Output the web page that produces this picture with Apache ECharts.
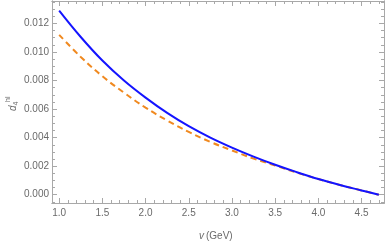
<!DOCTYPE html>
<html>
<head>
<meta charset="utf-8">
<script src="https://cdn.jsdelivr.net/npm/echarts@6/dist/echarts.min.js"></script>
<style>
html,body{margin:0;padding:0;background:#fff;}
#chart{width:387px;height:247px;}
</style>
</head>
<body>
<div id="chart"></div>
<script>
// ---- data ----
const xValues      = [1.0, 1.25, 1.5, 1.75, 2.0, 2.25, 2.5, 2.75, 3.0, 3.25, 3.5, 3.75, 4.0, 4.25, 4.5, 4.7];
const blueValues   = [0.01290, 0.01105, 0.00940, 0.00800, 0.00680, 0.00573, 0.00480, 0.00400, 0.00330, 0.00267, 0.00210, 0.00158, 0.00110, 0.00068, 0.00030, 0.00000];
const orangeValues = [0.01120, 0.00965, 0.00830, 0.00715, 0.00610, 0.00520, 0.00440, 0.00370, 0.00310, 0.00253, 0.00205, 0.00155, 0.00110, 0.00068, 0.00030, 0.00000];
const xTickLabels  = [1.0, 1.5, 2.0, 2.5, 3.0, 3.5, 4.0, 4.5];
const yTickLabels  = [0.000, 0.002, 0.004, 0.006, 0.008, 0.010, 0.012];

const XMIN = 0.917, XMAX = 4.76;
const YMIN = -0.00058, YMAX = 0.01357;

const xMinor = [];
for (let k = 9; k <= 47; k++) { const v = k / 10; if (v > XMIN && v < XMAX) xMinor.push(+v.toFixed(2)); }
const yMinor = [];
for (let k = -1; k <= 27; k++) { const v = k * 0.0005; if (v > YMIN && v < YMAX) yMinor.push(+v.toFixed(5)); }

const FRAME = '#a8a8a8';
const LABEL = '#6a6a6a';
const FONT = 'Liberation Sans';

function xAx(pos, ticks, len, labels) {
  return {
    type: 'value', min: XMIN, max: XMAX, position: pos,
    axisLine: { show: true, onZero: false, lineStyle: { color: FRAME, width: 1 } },
    axisTick: { show: true, inside: true, length: len, customValues: ticks, lineStyle: { color: FRAME } },
    axisLabel: labels ? { show: true, customValues: xTickLabels, color: LABEL, fontFamily: FONT, fontSize: 10, margin: 5,
      formatter: v => v.toFixed(1) } : { show: false },
    splitLine: { show: false }
  };
}
function yAx(pos, ticks, len, labels) {
  return {
    type: 'value', min: YMIN, max: YMAX, position: pos,
    axisLine: { show: true, onZero: false, lineStyle: { color: FRAME, width: 1 } },
    axisTick: { show: true, inside: true, length: len, customValues: ticks, lineStyle: { color: FRAME } },
    axisLabel: labels ? { show: true, customValues: yTickLabels, color: LABEL, fontFamily: FONT, fontSize: 10, margin: 3,
      formatter: v => v.toFixed(3) } : { show: false },
    splitLine: { show: false }
  };
}

const chart = echarts.init(document.getElementById('chart'), null, { renderer: 'canvas' });
chart.setOption({
  animation: false,
  backgroundColor: '#ffffff',
  grid: { left: 52, right: 3, top: 1, bottom: 44, containLabel: false },
  xAxis: [
    xAx('bottom', xTickLabels, 5, true),
    xAx('bottom', xMinor, 3, false),
    xAx('top', xTickLabels, 5, false),
    xAx('top', xMinor, 3, false)
  ],
  yAxis: [
    yAx('left', yTickLabels, 5, true),
    yAx('left', yMinor, 3, false),
    yAx('right', yTickLabels, 5, false),
    yAx('right', yMinor, 3, false)
  ],
  series: [
    {
      type: 'line', xAxisIndex: 0, yAxisIndex: 0, showSymbol: false, smooth: 0.4,
      data: xValues.map((x, i) => [x, orangeValues[i]]),
      lineStyle: { color: '#f0891f', width: 2, type: [6, 4] }, z: 2
    },
    {
      type: 'line', xAxisIndex: 0, yAxisIndex: 0, showSymbol: false, smooth: 0.4,
      data: xValues.map((x, i) => [x, blueValues[i]]),
      lineStyle: { color: '#1414ff', width: 2 }, z: 3
    }
  ],
  graphic: [
    {
      type: 'group', x: 218, y: 236,
      children: [
        { type: 'text', x: -19, y: 0, style: { text: 'v', font: 'italic 10px "Liberation Sans"', fill: LABEL, textAlign: 'left', textVerticalAlign: 'middle' } },
        { type: 'text', x: -12, y: 0, style: { text: '(GeV)', font: '10px "Liberation Sans"', fill: LABEL, textAlign: 'left', textVerticalAlign: 'middle' } }
      ]
    },
    {
      type: 'group', x: 13, y: 103, rotation: Math.PI / 2,
      children: [
        { type: 'text', x: -8, y: 0, style: { text: 'd', font: 'italic 10px "Liberation Sans"', fill: LABEL, textAlign: 'left', textVerticalAlign: 'middle' } },
        { type: 'text', x: -2.5, y: 3, style: { text: '4', font: '7px "Liberation Sans"', fill: LABEL, textAlign: 'left', textVerticalAlign: 'middle' } },
        { type: 'text', x: 1, y: -5, style: { text: 'hl', font: '7px "Liberation Sans"', fill: LABEL, textAlign: 'left', textVerticalAlign: 'middle' } }
      ]
    }
  ]
});
</script>
</body>
</html>
